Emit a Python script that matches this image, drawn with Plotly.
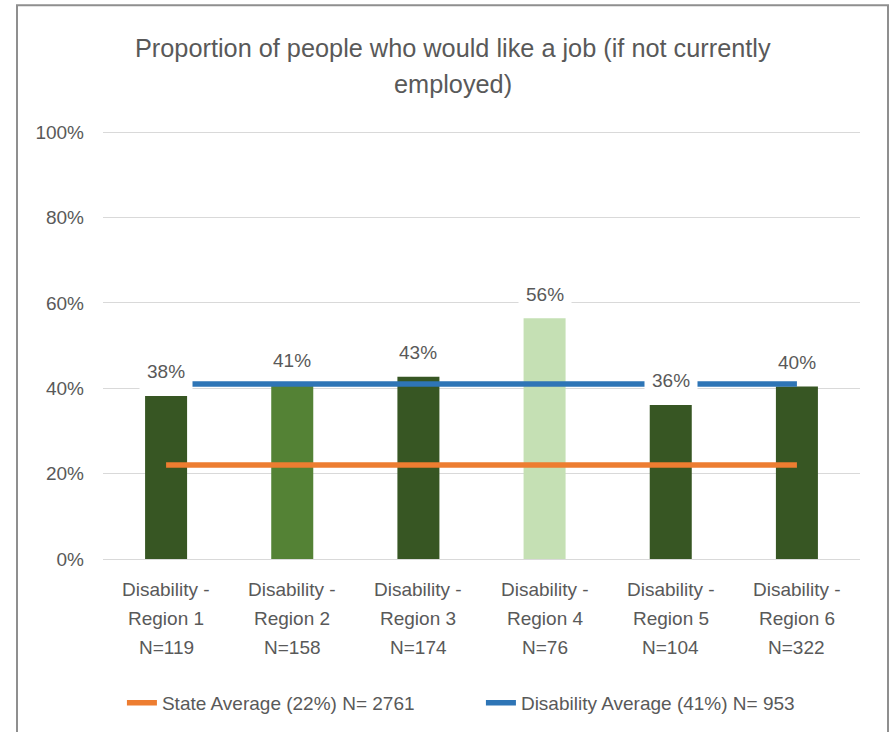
import plotly.graph_objects as go

# Chart data
regions = ["Region 1", "Region 2", "Region 3", "Region 4", "Region 5", "Region 6"]
sample_sizes = [119, 158, 174, 76, 104, 322]
share_wanting_job = [0.382, 0.410, 0.427, 0.564, 0.361, 0.404]
bar_colors = ["#375623", "#548235", "#375623", "#C5E0B4", "#375623", "#375623"]

state_average = 0.22
state_n = 2761
disability_average = 0.41
disability_n = 953

title_lines = ["Proportion of people who would like a job (if not currently", "employed)"]

FONT = "Liberation Sans, Arial, sans-serif"
TEXT_COLOR = "#595959"
GRID_COLOR = "#D9D9D9"

categories = [f"Disability - {r} N={n}" for r, n in zip(regions, sample_sizes)]

fig = go.Figure()

fig.add_trace(go.Bar(
    x=categories,
    y=share_wanting_job,
    marker=dict(color=bar_colors, line=dict(width=0)),
    width=0.333,
    showlegend=False,
    hoverinfo="skip",
))

fig.add_trace(go.Scatter(
    x=categories,
    y=[state_average] * len(categories),
    mode="lines",
    line=dict(color="#ED7D31", width=5.5),
    name=f"State Average ({state_average:.0%}) N= {state_n}",
))

fig.add_trace(go.Scatter(
    x=categories,
    y=[disability_average] * len(categories),
    mode="lines",
    line=dict(color="#2E75B6", width=5.5),
    name=f"Disability Average ({disability_average:.0%}) N= {disability_n}",
))

annotations = []

# value labels on white boxes above each bar
for cat, v in zip(categories, share_wanting_job):
    annotations.append(dict(
        x=cat, y=v, xref="x", yref="y",
        text=f"{v:.0%}", showarrow=False,
        yanchor="middle", yshift=24,
        bgcolor="white", borderpad=7,
        font=dict(family=FONT, size=19, color=TEXT_COLOR),
    ))

# three-line category labels under the axis
for cat, region, n in zip(categories, regions, sample_sizes):
    for text, shift in (("Disability -", -30), (region, -59), (f"N={n}", -88)):
        annotations.append(dict(
            x=cat, y=0, xref="x", yref="paper",
            text=text, showarrow=False,
            yanchor="middle", yshift=shift,
            font=dict(family=FONT, size=19, color=TEXT_COLOR),
        ))

# chart title
for text, ypos in zip(title_lines, (1.1935, 1.1096)):
    annotations.append(dict(
        x=0.4617, y=ypos, xref="paper", yref="paper",
        text=text, showarrow=False,
        xanchor="center", yanchor="middle",
        font=dict(family=FONT, size=25.3, color=TEXT_COLOR),
    ))

fig.update_layout(
    width=892, height=732,
    margin=dict(l=103, r=32, t=131, b=172, pad=0),
    paper_bgcolor="white",
    plot_bgcolor="white",
    font=dict(family=FONT, size=19, color=TEXT_COLOR),
    bargap=0.667,
    annotations=annotations,
    legend=dict(
        orientation="h",
        x=0.025, xanchor="left",
        y=-0.333, yanchor="middle",
        font=dict(family=FONT, size=19, color=TEXT_COLOR),
        bgcolor="rgba(0,0,0,0)",
        itemwidth=30,
        entrywidth=314,
        entrywidthmode="pixels",
    ),
    shapes=[dict(
        type="rect", xref="paper", yref="paper",
        x0=-0.1136, x1=1.037, y0=-0.5, y1=1.2937,
        line=dict(color="#8f8f8f", width=2),
        fillcolor="rgba(0,0,0,0)",
        layer="below",
    )],
)

fig.update_xaxes(
    showticklabels=False,
    showgrid=False,
    zeroline=False,
    showline=False,
    ticks="",
)

fig.update_yaxes(
    range=[0, 1.003],
    tickvals=[0, 0.2, 0.4, 0.6, 0.8, 1.0],
    tickformat=".0%",
    showgrid=True,
    gridcolor=GRID_COLOR,
    gridwidth=1.3,
    zeroline=True,
    zerolinecolor=GRID_COLOR,
    zerolinewidth=1.3,
    showline=False,
    ticks="",
    ticklabelstandoff=18,
    tickfont=dict(family=FONT, size=19, color=TEXT_COLOR),
)

fig.write_html("out.html")
